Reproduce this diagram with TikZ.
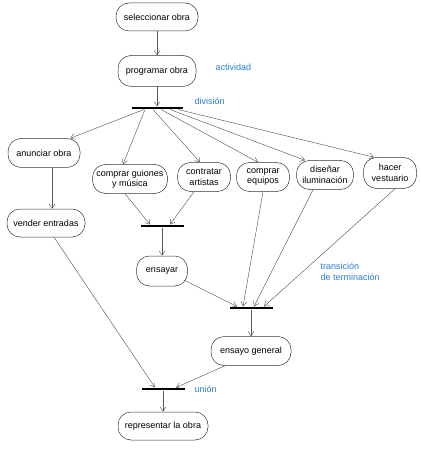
\documentclass[tikz,border=0pt]{standalone}
\usepackage{fontspec}
\setmainfont{Liberation Sans}
\usepackage{xcolor}
\usetikzlibrary{arrows.meta}
\definecolor{rotuloazul}{RGB}{40,125,215}

\begin{document}
\begin{tikzpicture}[x=1pt,y=-1pt,
  act/.style={draw=black!80, line width=0.5pt, rounded corners=13pt, minimum height=29pt, inner sep=2pt, align=center, font=\fontsize{9}{10.5}\selectfont},
  barra/.style={fill=black, inner sep=0pt, minimum height=2.6pt, minimum width=43pt},
  flecha/.style={draw=black!65, line width=0.45pt, -{Straight Barb[length=4.5pt,width=6pt]}},
  rotulo/.style={text=rotuloazul, anchor=west, align=left, font=\fontsize{9}{11}\selectfont}]
\useasboundingbox (0,0) rectangle (420,454);
\node[act, minimum width=82pt, minimum height=28pt] (sel) at (157,17) {seleccionar obra};
\node[act, minimum width=78pt, minimum height=31pt] (prog) at (157,71) {programar obra};
\node[barra, minimum width=51pt] (div) at (157,108) {};
\node[act, minimum width=72pt] (anun) at (44,153) {anunciar obra};
\node[act, minimum width=75pt] (guion) at (130,179) {comprar guiones\\y música};
\node[act, minimum width=53pt] (contr) at (204,177) {contratar\\artistas};
\node[act, minimum width=53pt] (equip) at (263,177) {comprar\\equipos};
\node[act, minimum width=57pt] (disen) at (325,175) {diseñar\\iluminación};
\node[act, minimum width=53pt, minimum height=31pt] (vest) at (390,173) {hacer\\vestuario};
\node[act, minimum width=78pt, minimum height=28pt] (vend) at (46,223) {vender entradas};
\node[barra] (bar2) at (162,226) {};
\node[act, minimum width=51pt, minimum height=30pt] (ens) at (162,271) {ensayar};
\node[barra] (bar3) at (251,308) {};
\node[act, minimum width=80pt] (egen) at (251,351) {ensayo general};
\node[barra] (bar4) at (163,389) {};
\node[act, minimum width=90pt, minimum height=28pt] (rep) at (163,426) {representar la obra};
\node[rotulo] (lact) at (212,67) {actividad};
\node[rotulo] (ldiv) at (191,101) {división};
\node[rotulo] (ltran) at (317,272) {transición\\de terminación};
\node[rotulo] (luni) at (191,389) {unión};
\draw[flecha] (sel) -- (prog);
\draw[flecha] (prog) -- (div.north);
\draw[flecha] ([xshift=-13pt]div.south) -- ([xshift=-10pt]anun.north east);
\draw[flecha] ([xshift=-12pt]div.south) -- ([xshift=-7pt]guion.north);
\draw[flecha] ([xshift=-4pt]div.south) -- ([xshift=-4pt]contr.north);
\draw[flecha] ([xshift=4pt]div.south) -- ([xshift=-5pt]equip.north);
\draw[flecha] ([xshift=13pt]div.south) -- ([xshift=-20pt]disen.north);
\draw[flecha] ([xshift=21pt]div.south) -- ([xshift=-16pt]vest.north);
\draw[flecha] ([xshift=8pt]anun.south) -- ([xshift=6pt]vend.north);
\draw[flecha] ([xshift=-5pt]guion.south) -- ([xshift=-12pt]bar2.north);
\draw[flecha] ([xshift=-10pt]contr.south) -- ([xshift=8pt]bar2.north);
\draw[flecha] (bar2.south) -- (ens.north);
\draw[flecha] ([xshift=-4pt,yshift=-9pt]ens.east) -- ([xshift=-14pt]bar3.north);
\draw[flecha] (equip.south) -- ([xshift=-8pt]bar3.north);
\draw[flecha] ([xshift=-12pt]disen.south) -- ([xshift=3pt]bar3.north);
\draw[flecha] ([xshift=5pt]vest.south) -- ([xshift=13pt]bar3.north);
\draw[flecha] (bar3.south) -- (egen.north);
\draw[flecha] ([xshift=8pt]vend.south) -- ([xshift=-8pt]bar4.north);
\draw[flecha] ([xshift=-26pt]egen.south) -- ([xshift=13pt]bar4.north);
\draw[flecha] (bar4.south) -- (rep.north);
\end{tikzpicture}
\end{document}
